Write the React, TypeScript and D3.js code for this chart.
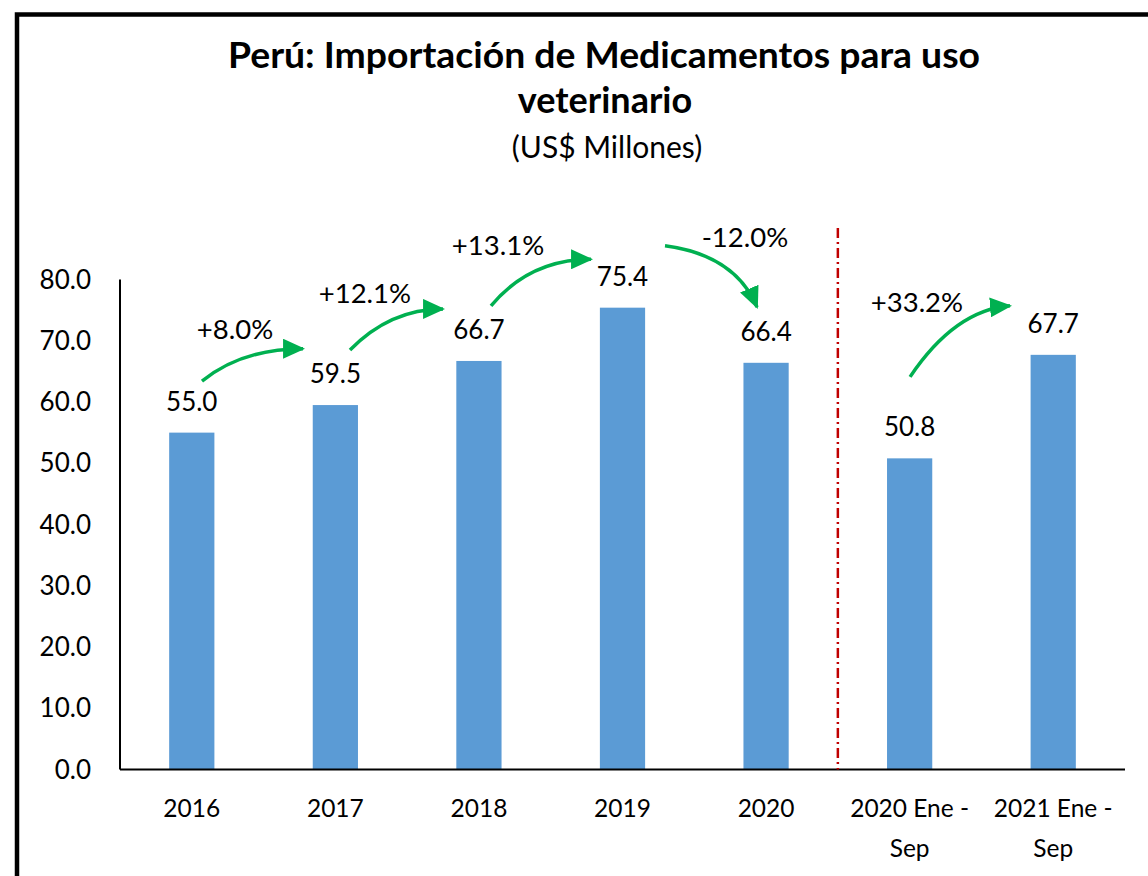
import React from "react";
import * as d3 from "d3";

const categories: string[][] = [
  ["2016"], ["2017"], ["2018"], ["2019"], ["2020"], ["2020 Ene -", "Sep"], ["2021 Ene -", "Sep"],
];
const values: number[] = [55.0, 59.5, 66.7, 75.4, 66.4, 50.8, 67.7];
const yTicks: number[] = [0, 10, 20, 30, 40, 50, 60, 70, 80];
const titleLines: string[] = ["Perú: Importación de Medicamentos para uso", "veterinario"];
const subtitle = "(US$ Millones)";

// growth annotations, in band units (x) and value units (y)
const growthLabels: string[] = ["+8.0%", "+12.1%", "+13.1%", "-12.0%", "+33.2%"];
const growthLabelPos: [number, number][] = [
  [0.801, 71.8], [1.706, 77.8], [2.633, 85.6], [4.353, 86.9], [5.551, 76.3],
];
const arrowFrom: [number, number][] = [
  [0.571, 63.4], [1.602, 68.5], [2.584, 75.7], [3.796, 85.5], [5.503, 64.1],
];
const arrowCtrl: [number, number][] = [
  [0.85, 68.7], [1.881, 75.2], [2.856, 83.3], [4.284, 84.0], [5.816, 75.0],
];
const arrowTo: [number, number][] = [
  [1.275, 68.7], [2.25, 75.2], [3.281, 83.3], [4.437, 75.5], [6.199, 75.7],
];
const dividerBand = 5; // divider between 2020 and the Ene-Sep pair
const dividerTop = 88.4;

const W = 1148;
const H = 876;
const FONT = "Lato, 'Open Sans', sans-serif";

export default function App() {
  const x0 = 120, x1 = 1125;
  const yScale = d3.scaleLinear().domain([0, 80]).range([769.5, 279.5]);
  const xBand = d3
    .scaleBand<number>()
    .domain(d3.range(categories.length))
    .range([x0, x1])
    .paddingInner(0.685)
    .paddingOuter(0.3425);
  const step = (x1 - x0) / categories.length;
  const ux = d3.scaleLinear().domain([0, categories.length]).range([x0, x1]);
  const center = (i: number) => (xBand(i) as number) + xBand.bandwidth() / 2;

  const arrowPaths = arrowFrom.map((f, i) => {
    const p = d3.path();
    p.moveTo(ux(f[0]), yScale(f[1]));
    p.quadraticCurveTo(ux(arrowCtrl[i][0]), yScale(arrowCtrl[i][1]), ux(arrowTo[i][0]), yScale(arrowTo[i][1]));
    return p.toString();
  });

  return (
    <svg
      width={W}
      height={H}
      style={{ position: "absolute", left: 0, top: 0, background: "#fff" }}
      fontFamily={FONT}
    >
      <defs>
        <marker
          id="ah"
          markerUnits="userSpaceOnUse"
          markerWidth={22}
          markerHeight={20}
          viewBox="0 0 22 20"
          refX={20}
          refY={10}
          orient="auto"
        >
          <path d="M0,0 L22,10 L0,20 Z" fill="#00B050" />
        </marker>
      </defs>
      <rect x={17} y={14.5} width={1300} height={1000} fill="none" stroke="#000" strokeWidth={4.5} />

      {/* Titles */}
      <text x={604} y={68} textAnchor="middle" fontWeight="bold" fontSize={36} fill="#000"
        textLength={752} lengthAdjust="spacingAndGlyphs">
        {titleLines[0]}
      </text>
      <text x={605} y={113} textAnchor="middle" fontWeight="bold" fontSize={36} fill="#000">
        {titleLines[1]}
      </text>
      <text x={607} y={158} textAnchor="middle" fontSize={30} fill="#000">
        {subtitle}
      </text>

      {/* Y tick labels */}
      {yTicks.map((t) => (
        <text key={t} x={91} y={yScale(t)} dy="0.35em" textAnchor="end" fontSize={26} fill="#000">
          {t.toFixed(1)}
        </text>
      ))}

      {/* Bars */}
      {values.map((v, i) => (
        <rect
          key={i}
          x={xBand(i)}
          y={yScale(v)}
          width={xBand.bandwidth()}
          height={yScale(0) - yScale(v)}
          fill="#5B9BD5"
        />
      ))}

      {/* Axes lines */}
      <line x1={x0} x2={x0} y1={yScale(80)} y2={yScale(0)} stroke="#000" strokeWidth={2} />
      <line x1={x0} x2={x1} y1={yScale(0)} y2={yScale(0)} stroke="#000" strokeWidth={2} />

      {/* Data labels */}
      {values.map((v, i) => (
        <text key={i} x={center(i)} y={yScale(v) - 22} textAnchor="middle" fontSize={26} fill="#000">
          {v.toFixed(1)}
        </text>
      ))}

      {/* X labels */}
      {categories.map((lines, i) => (
        <text key={i} x={center(i)} y={817} textAnchor="middle" fontSize={24.5} fill="#000">
          {lines.map((l, j) => (
            <tspan key={j} x={center(i)} dy={j === 0 ? 0 : 40}>
              {l}
            </tspan>
          ))}
        </text>
      ))}

      {/* Divider */}
      <line
        x1={x0 + dividerBand * step}
        x2={x0 + dividerBand * step}
        y1={yScale(dividerTop)}
        y2={yScale(0)}
        stroke="#C00000"
        strokeWidth={2.5}
        strokeDasharray="10 4 2 4"
      />

      {/* Growth arrows */}
      {arrowPaths.map((d, i) => (
        <path key={i} d={d} fill="none" stroke="#00B050" strokeWidth={3.5} markerEnd="url(#ah)" />
      ))}
      {growthLabels.map((l, i) => (
        <text
          key={i}
          x={ux(growthLabelPos[i][0])}
          y={yScale(growthLabelPos[i][1])}
          dy="0.35em"
          textAnchor="middle"
          fontSize={27.5}
          fill="#000"
        >
          {l}
        </text>
      ))}
    </svg>
  );
}
